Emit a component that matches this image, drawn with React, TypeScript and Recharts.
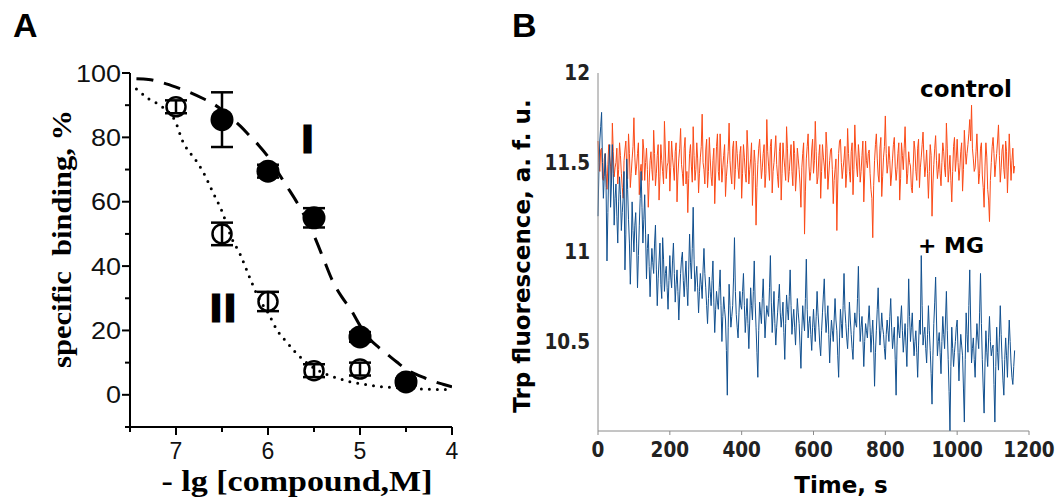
import React from "react";
import { ComposedChart, LineChart, Line, Scatter, ErrorBar, XAxis, YAxis } from "recharts";

// ---- panel A: binding vs -lg[compound]
const doseI = [6.5, 6, 5.5, 5, 4.5];
const bindingI = [85.5, 69.5, 55, 18, 4];
const errI = [8.5, 2, 3, 1.5, 1];

const doseII = [7, 6.5, 6, 5.5, 5];
const bindingII = [89.5, 50, 29, 7.5, 8];
const errII = [2, 3.5, 3, 2, 2];

// fitted curves
const fitDoseI = [7.43, 7.3, 7.15, 7.0, 6.85, 6.7, 6.6, 6.5, 6.4, 6.3, 6.2, 6.1, 6.0, 5.9, 5.8, 5.7, 5.6, 5.5, 5.4, 5.3, 5.2, 5.1, 5.0, 4.9, 4.8, 4.7, 4.6, 4.5, 4.4, 4.3, 4.2, 4.1, 4.0];
const fitI = [98.2, 98, 97, 95.6, 94, 92, 90.5, 88.5, 86, 83.5, 80.5, 77.5, 74, 69.5, 65, 60.5, 55.5, 49.5, 42.5, 35.5, 30.5, 26.5, 21.5, 17.5, 14.8, 12.5, 10.2, 8, 6.5, 5.3, 4.2, 3.3, 2.5];
const fitDoseII = [7.43, 7.3, 7.15, 7.0, 6.93, 6.87, 6.8, 6.7, 6.6, 6.5, 6.4, 6.3, 6.2, 6.1, 6.0, 5.9, 5.8, 5.7, 5.6, 5.5, 5.4, 5.3, 5.2, 5.1, 5.0, 4.8, 4.6, 4.4, 4.2, 4.0];
const fitII = [95, 92, 89.5, 84.5, 79, 76, 73.5, 69, 63, 57, 49, 43.5, 36.5, 30, 25.5, 20, 16.5, 13.2, 10.5, 8.3, 6.8, 5.7, 4.8, 4, 3.5, 2.6, 2.2, 1.9, 1.7, 1.6];

const doseTicks = [7.5, 7, 6.5, 6, 5.5, 5, 4.5, 4];
const bindingTicks = [-10, 0, 10, 20, 30, 40, 50, 60, 70, 80, 90, 100];

// ---- panel B: Trp fluorescence traces, one sample every 2.5 s (20 per row = 50 s)
const sampleStep = 2.5;
const controlTrace = [
  11.62, 11.50, 11.45, 11.57, 11.58, 11.41, 11.40, 11.52, 11.55, 11.44, 11.35, 11.49, 11.60, 11.53, 11.48, 11.39, 11.72, 11.56, 11.42, 11.47,
  11.50, 11.58, 11.38, 11.46, 11.61, 11.54, 11.44, 11.36, 11.30, 11.51, 11.57, 11.62, 11.47, 11.41, 11.66, 11.55, 11.36, 11.44, 11.52, 11.59,
  11.75, 11.53, 11.43, 11.48, 11.55, 11.61, 11.32, 11.45, 11.49, 11.40, 11.63, 11.57, 11.40, 11.50, 11.58, 11.46, 11.25, 11.39, 11.51, 11.56,
  11.46, 11.40, 11.68, 11.55, 11.37, 11.44, 11.54, 11.60, 11.29, 11.42, 11.60, 11.51, 11.45, 11.38, 11.73, 11.57, 11.41, 11.48, 11.50, 11.62,
  11.34, 11.47, 11.62, 11.53, 11.47, 11.40, 11.56, 11.61, 11.28, 11.43, 11.52, 11.58, 11.69, 11.49, 11.44, 11.37, 11.58, 11.64, 11.38, 11.45,
  11.22, 11.41, 11.55, 11.60, 11.48, 11.39, 11.70, 11.54, 11.40, 11.46, 11.61, 11.52, 11.33, 11.44, 11.53, 11.59, 11.77, 11.50, 11.46, 11.38,
  11.57, 11.63, 11.36, 11.45, 11.64, 11.52, 11.42, 11.37, 11.51, 11.58, 11.27, 11.43, 11.59, 11.66, 11.45, 11.40, 11.66, 11.53, 11.39, 11.47,
  11.54, 11.60, 11.31, 11.42, 11.49, 11.56, 11.72, 11.51, 11.43, 11.38, 11.58, 11.62, 11.35, 11.46, 11.62, 11.55, 11.47, 11.41, 11.55, 11.59,
  11.30, 11.44, 11.60, 11.53, 11.44, 11.39, 11.68, 11.57, 11.38, 11.46, 11.52, 11.61, 11.26, 11.42, 11.57, 11.50, 11.15, 11.36, 11.49, 11.58,
  11.63, 11.52, 11.41, 11.47, 11.55, 11.60, 11.36, 11.44, 11.74, 11.56, 11.48, 11.40, 11.59, 11.63, 11.33, 11.45, 11.50, 11.57, 11.65, 11.49,
  11.42, 11.36, 11.56, 11.61, 11.29, 11.44, 11.61, 11.53, 11.47, 11.40, 11.70, 11.58, 11.39, 11.45, 11.53, 11.60, 11.45, 11.37, 11.62, 11.55,
  11.34, 11.43, 11.58, 11.52, 11.46, 11.38, 11.25, 11.47, 11.55, 11.61, 11.10, 11.34, 11.52, 11.59, 11.66, 11.48, 11.40, 11.45, 11.57, 11.63,
  11.44, 11.51, 11.73, 11.56, 11.38, 11.42, 11.54, 11.60, 11.30, 11.45, 11.60, 11.53, 11.48, 11.41, 11.67, 11.58, 11.35, 11.43, 11.51, 11.57,
  11.58, 11.46, 11.27, 11.40, 11.46, 11.52, 11.12, 11.38, 11.55, 11.62, 11.63, 11.50, 11.41, 11.47, 11.52, 11.59, 11.36, 11.44, 11.69, 11.55,
  11.45, 11.39, 11.56, 11.61, 11.32, 11.46, 11.71, 11.57, 11.48, 11.42, 11.60, 11.53, 11.39, 11.45, 11.54, 11.62, 11.28, 11.43, 11.62, 11.51,
  11.47, 11.55, 11.57, 11.44, 11.35, 11.30, 11.08, 11.37, 11.51, 11.60, 11.66, 11.52, 11.43, 11.39, 11.58, 11.64, 11.31, 11.42, 11.53, 11.59,
  11.76, 11.55, 11.44, 11.49, 11.59, 11.51, 11.37, 11.43, 11.52, 11.60, 11.64, 11.48, 11.40, 11.46, 11.55, 11.61, 11.29, 11.41, 11.61, 11.54,
  11.46, 11.58, 11.70, 11.53, 11.38, 11.44, 11.56, 11.50, 11.48, 11.36, 11.33, 11.47, 11.62, 11.57, 11.45, 11.40, 11.58, 11.63, 11.36, 11.47,
  11.53, 11.60, 11.67, 11.52, 11.42, 11.48, 11.57, 11.44, 11.30, 11.45, 11.60, 11.54, 11.20, 11.38, 11.49, 11.58, 11.65, 11.51, 11.41, 11.46,
  11.55, 11.44, 11.37, 11.50, 11.61, 11.56, 11.47, 11.42, 11.72, 11.58, 11.39, 11.46, 11.54, 11.40, 11.28, 11.45, 11.59, 11.64, 11.45, 11.52,
  11.63, 11.50, 11.40, 11.47, 11.56, 11.61, 11.34, 11.46, 11.68, 11.57, 11.49, 11.55, 11.60, 11.66, 11.74, 11.62, 11.82, 11.58, 11.52, 11.45,
  11.47, 11.56, 11.66, 11.52, 11.38, 11.44, 11.58, 11.61, 11.43, 11.36, 11.25, 11.48, 11.61, 11.53, 11.35, 11.29, 11.17, 11.40, 11.50, 11.59,
  11.64, 11.55, 11.42, 11.49, 11.55, 11.62, 11.71, 11.54, 11.39, 11.47, 11.57, 11.60, 11.46, 11.41, 11.62, 11.56, 11.33, 11.48, 11.66, 11.53,
  11.40, 11.51, 11.58, 11.44, 11.48,
];
const mgTrace = [
  11.20, 11.45, 11.62, 11.70, 11.78, 11.50, 11.30, 11.42, 11.55, 11.36, 10.95, 11.22, 11.48, 11.60, 11.25, 11.38, 11.60, 11.44, 11.15, 11.30,
  11.38, 11.20, 11.05, 11.28, 11.42, 11.32, 11.12, 11.22, 11.30, 11.45, 10.90, 11.10, 11.52, 11.35, 11.18, 11.05, 10.82, 11.00, 11.28, 11.12,
  11.00, 11.15, 11.22, 11.05, 10.80, 10.98, 11.15, 11.30, 11.45, 11.25, 11.05, 11.18, 11.32, 11.10, 10.85, 11.02, 11.10, 10.92, 10.75, 10.90,
  11.02, 10.94, 10.88, 11.05, 11.15, 10.90, 10.70, 10.85, 10.95, 11.05, 10.82, 10.74, 11.08, 10.96, 10.78, 10.88, 10.92, 10.80, 10.68, 10.84,
  10.98, 10.86, 10.80, 10.95, 11.05, 10.88, 10.72, 10.82, 10.90, 10.78, 10.62, 10.76, 10.88, 10.96, 11.00, 10.84, 10.75, 10.86, 10.95, 10.80,
  10.70, 10.90, 11.10, 10.94, 10.85, 11.02, 11.25, 10.96, 10.78, 10.86, 10.92, 10.80, 10.66, 10.78, 10.88, 10.82, 10.74, 10.90, 11.02, 10.88,
  10.80, 10.70, 10.60, 10.74, 10.86, 10.78, 10.70, 10.84, 10.95, 10.72, 10.55, 10.68, 10.78, 10.72, 10.68, 10.80, 10.90, 10.70, 10.50, 10.64,
  10.75, 10.68, 10.62, 10.45, 10.20, 10.58, 10.82, 10.70, 10.58, 10.64, 10.70, 10.86, 11.08, 10.78, 10.65, 10.58, 10.52, 10.66, 10.78, 10.70,
  10.68, 10.78, 10.88, 10.70, 10.55, 10.64, 10.74, 10.60, 10.46, 10.62, 10.80, 10.70, 10.62, 10.78, 10.95, 10.72, 10.58, 10.44, 10.30, 10.56,
  10.72, 10.66, 10.60, 10.74, 10.85, 10.68, 10.52, 10.62, 10.70, 10.66, 10.64, 10.80, 10.98, 10.72, 10.55, 10.66, 10.78, 10.60, 10.48, 10.58,
  10.66, 10.74, 10.82, 10.66, 10.58, 10.64, 10.72, 10.55, 10.40, 10.60, 10.76, 10.68, 10.62, 10.75, 10.90, 10.70, 10.54, 10.62, 10.68, 10.58,
  10.48, 10.62, 10.74, 10.66, 10.60, 10.48, 10.35, 10.56, 10.70, 10.62, 10.56, 10.74, 10.96, 10.68, 10.52, 10.60, 10.64, 10.54, 10.45, 10.58,
  10.68, 10.58, 10.50, 10.64, 10.78, 10.66, 10.58, 10.48, 10.42, 10.56, 10.66, 10.76, 10.85, 10.66, 10.55, 10.62, 10.70, 10.54, 10.38, 10.52,
  10.62, 10.56, 10.50, 10.62, 10.74, 10.62, 10.56, 10.42, 10.30, 10.52, 10.68, 10.60, 10.52, 10.70, 10.88, 10.68, 10.60, 10.52, 10.46, 10.58,
  10.72, 10.62, 10.54, 10.46, 10.40, 10.56, 10.66, 10.60, 10.58, 10.74, 10.92, 10.66, 10.50, 10.58, 10.64, 10.52, 10.36, 10.50, 10.60, 10.56,
  10.52, 10.62, 10.70, 10.58, 10.44, 10.54, 10.62, 10.48, 10.25, 10.44, 10.56, 10.68, 10.80, 10.62, 10.48, 10.56, 10.66, 10.58, 10.54, 10.46,
  10.40, 10.54, 10.62, 10.56, 10.50, 10.64, 10.74, 10.58, 10.46, 10.52, 10.58, 10.40, 10.20, 10.48, 10.64, 10.56, 10.52, 10.62, 10.70, 10.56,
  10.44, 10.52, 10.60, 10.48, 10.36, 10.58, 10.85, 10.64, 10.50, 10.58, 10.66, 10.52, 10.42, 10.50, 10.56, 10.44, 10.30, 10.48, 10.62, 10.54,
  10.98, 10.70, 10.48, 10.54, 10.58, 10.46, 10.38, 10.54, 10.70, 10.56, 10.45, 10.32, 10.15, 10.42, 10.60, 10.72, 10.86, 10.62, 10.42, 10.50,
  10.55, 10.44, 10.32, 10.50, 10.64, 10.54, 10.46, 10.62, 10.78, 10.56, 10.40, 10.22, 10.00, 10.36, 10.58, 10.46, 10.36, 10.44, 10.50, 10.58,
  10.62, 10.44, 10.28, 10.44, 10.54, 10.48, 10.42, 10.24, 10.05, 10.40, 10.66, 10.54, 10.44, 10.70, 10.90, 10.62, 10.38, 10.46, 10.52, 10.40,
  10.30, 10.48, 10.60, 10.52, 10.46, 10.66, 10.88, 10.60, 10.40, 10.24, 10.10, 10.38, 10.56, 10.44, 10.36, 10.52, 10.64, 10.50, 10.42, 10.46,
  10.48, 10.26, 10.05, 10.36, 10.58, 10.44, 10.34, 10.52, 10.70, 10.54, 10.40, 10.28, 10.20, 10.40, 10.52, 10.42, 10.30, 10.48, 10.62, 10.50,
  10.38, 10.30, 10.26, 10.36, 10.45,
];
const timeTicks = [0, 200, 400, 600, 800, 1000, 1200];
const fluorTicks = [10.5, 11, 11.5, 12];

const SANS = "'Liberation Sans', Arial, sans-serif";
const SERIF = "'Liberation Serif', 'Times New Roman', serif";
const DEJAVU = "'DejaVu Sans', sans-serif";

function DoseTick(props: any) {
  const { x, y, payload } = props;
  const v = payload.value;
  const major = Number.isInteger(v);
  return (
    <g>
      <line x1={x} x2={x} y1={y} y2={y + (major ? 8 : 5)} stroke="#000" strokeWidth={2} />
      {major && (
        <text x={x} y={y + 32} textAnchor="middle" fontSize={23} fontFamily={SANS} fill="#111">
          {v}
        </text>
      )}
    </g>
  );
}

function BindingTick(props: any) {
  const { x, y, payload } = props;
  const v = payload.value;
  const labelled = v >= 0 && v % 20 === 0;
  const label = String(v);
  return (
    <g>
      <line x1={x} x2={x - (labelled ? 8 : 5)} y1={y} y2={y} stroke="#000" strokeWidth={2} />
      {labelled && (
        <text
          x={x - 9}
          y={y + 8.5}
          textAnchor="end"
          fontSize={23}
          fontFamily={SANS}
          fill="#111"
          textLength={label.length * 15}
          lengthAdjust="spacingAndGlyphs"
        >
          {label}
        </text>
      )}
    </g>
  );
}

const FilledDot = (p: any) => <circle cx={p.cx} cy={p.cy} r={11.5} fill="#000" />;
const OpenDot = (p: any) => <circle cx={p.cx} cy={p.cy} r={9.5} fill="none" stroke="#000" strokeWidth={2.5} />;

function PanelA() {
  const pointsI = doseI.map((x, i) => ({ x, y: bindingI[i], err: errI[i] }));
  const pointsII = doseII.map((x, i) => ({ x, y: bindingII[i], err: errII[i] }));
  const curveI = fitDoseI.map((x, i) => ({ x, y: fitI[i] }));
  const curveII = fitDoseII.map((x, i) => ({ x, y: fitII[i] }));

  return (
    <ComposedChart width={480} height={497} margin={{ top: 73, right: 28, bottom: 40, left: 70 }}>
      <XAxis
        type="number"
        dataKey="x"
        domain={[4, 7.5]}
        reversed
        ticks={doseTicks}
        interval={0}
        tick={<DoseTick />}
        tickLine={false}
        tickSize={0}
        tickMargin={0}
        axisLine={{ stroke: "#000", strokeWidth: 2 }}
        height={30}
        allowDataOverflow
      />
      <YAxis
        type="number"
        dataKey="y"
        domain={[-10, 100]}
        ticks={bindingTicks}
        interval={0}
        tick={<BindingTick />}
        tickLine={false}
        tickSize={0}
        tickMargin={0}
        axisLine={{ stroke: "#000", strokeWidth: 2 }}
        width={60}
        allowDataOverflow
      />
      <Line
        data={curveI}
        dataKey="y"
        type="monotone"
        stroke="#000"
        strokeWidth={3}
        strokeDasharray="17 11"
        dot={false}
        activeDot={false}
        isAnimationActive={false}
      />
      <Line
        data={curveII}
        dataKey="y"
        type="monotone"
        stroke="#000"
        strokeWidth={3}
        strokeDasharray="0 8"
        strokeLinecap="round"
        dot={false}
        activeDot={false}
        isAnimationActive={false}
      />
      <Scatter data={pointsII} dataKey="y" shape={OpenDot} isAnimationActive={false}>
        <ErrorBar dataKey="err" direction="y" width={11} stroke="#000" strokeWidth={2.5} isAnimationActive={false} />
      </Scatter>
      <Scatter data={pointsI} dataKey="y" shape={FilledDot} isAnimationActive={false}>
        <ErrorBar dataKey="err" direction="y" width={11} stroke="#000" strokeWidth={2.5} isAnimationActive={false} />
      </Scatter>
    </ComposedChart>
  );
}

function PanelB() {
  const rows = controlTrace.map((c, i) => ({ t: i * sampleStep, control: c, mg: mgTrace[i] }));
  const tickStyle = {
    fill: "#222",
    fontSize: 20.5,
    fontWeight: "bold" as const,
    fontFamily: "'DejaVu Sans Condensed', 'Liberation Sans', sans-serif",
  };
  return (
    <LineChart width={576} height={497} data={rows} margin={{ top: 73, right: 27, bottom: 36, left: 68 }}>
      <XAxis
        type="number"
        dataKey="t"
        domain={[0, 1200]}
        ticks={timeTicks}
        interval={0}
        tickSize={4}
        tickMargin={7}
        stroke="#8a8a8a"
        tick={tickStyle}
        height={30}
      />
      <YAxis
        type="number"
        domain={[10, 12]}
        ticks={fluorTicks}
        interval={0}
        tickLine={false}
        tickMargin={2}
        stroke="#8a8a8a"
        tick={tickStyle}
        width={50}
        allowDataOverflow
      />
      <Line dataKey="control" stroke="#fb4a17" strokeWidth={1} dot={false} activeDot={false} isAnimationActive={false} />
      <Line dataKey="mg" stroke="#11508f" strokeWidth={1} dot={false} activeDot={false} isAnimationActive={false} />
    </LineChart>
  );
}

export default function App() {
  return (
    <div style={{ position: "absolute", left: 0, top: 0, width: 1056, height: 497, background: "#fff", overflow: "hidden" }}>
      <div style={{ position: "absolute", left: 0, top: 0 }}>
        <PanelA />
      </div>
      <div style={{ position: "absolute", left: 480, top: 0 }}>
        <PanelB />
      </div>
      <svg width={1056} height={497} style={{ position: "absolute", left: 0, top: 0, pointerEvents: "none" }}>
        <text x={13} y={37} fontSize={34} fontWeight="bold" fontFamily={SANS}>A</text>
        <text x={512} y={37} fontSize={34} fontWeight="bold" fontFamily={SANS}>B</text>

        <text
          transform="translate(71 239) rotate(-90)"
          textAnchor="middle"
          fontSize={28}
          fontWeight="bold"
          fontFamily={SERIF}
          textLength={258}
          lengthAdjust="spacingAndGlyphs"
          style={{ whiteSpace: "pre" }}
        >
          {"specific  binding, %"}
        </text>
        <text
          x={297}
          y={491}
          textAnchor="middle"
          fontSize={29}
          fontWeight="bold"
          fontFamily={SERIF}
          textLength={271}
          lengthAdjust="spacingAndGlyphs"
        >
          - lg [compound,M]
        </text>
        <text x={307.5} y={152} textAnchor="middle" fontSize={36} fontWeight="bold" fontFamily={SANS} stroke="#000" strokeWidth={3}>
          I
        </text>
        <text x={225} y={321} textAnchor="middle" fontSize={36} fontWeight="bold" fontFamily={SANS} stroke="#000" strokeWidth={3} letterSpacing={4}>
          II
        </text>

        <text transform="translate(530 256) rotate(-90)" textAnchor="middle" fontSize={23} fontWeight="bold" fontFamily={DEJAVU}>
          Trp fluorescence, a. f. u.
        </text>
        <text x={841} y={493} textAnchor="middle" fontSize={23} fontWeight="bold" fontFamily={DEJAVU}>
          Time, s
        </text>
        <text x={920} y={97} fontSize={23} fontWeight="bold" fontFamily={DEJAVU}>control</text>
        <text x={918} y={253} fontSize={22} fontWeight="bold" fontFamily={DEJAVU}>+ MG</text>
      </svg>
    </div>
  );
}
